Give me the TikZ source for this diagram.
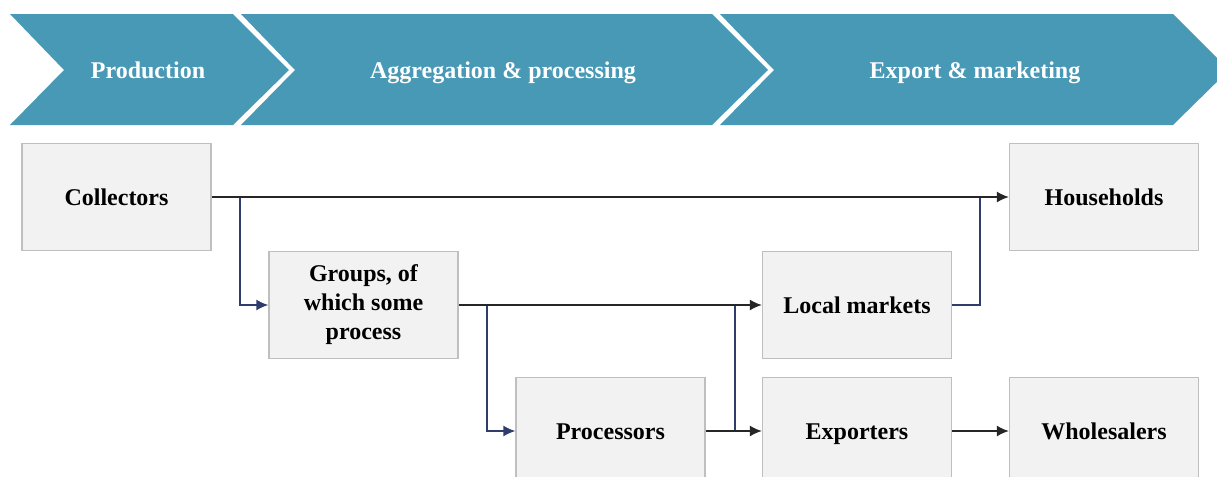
\documentclass[tikz,border=0pt]{standalone}
\usepackage{fontspec}
\setmainfont{Liberation Serif}
\usetikzlibrary{arrows.meta}
\usepackage{xcolor}
\definecolor{bannerblue}{HTML}{4899B6}
\definecolor{boxgrey}{HTML}{F2F2F2}
\definecolor{edgegrey}{HTML}{BFBFBF}
\definecolor{linknavy}{HTML}{2E3D6B}

\tikzset{
  box/.style={draw=edgegrey, line width=.6pt, fill=boxgrey, minimum width=94.5pt, minimum height=53.5pt,
    align=center, font=\fontsize{12}{14.5}\selectfont\bfseries, inner sep=2pt},
  actor/.style={box, text height=9.5pt, text depth=1.5pt},
  stage/.style={text=white, font=\fontsize{12}{14}\selectfont\bfseries, text height=9.5pt, text depth=1.5pt},
  flow/.style={draw=black!85, line width=.9pt},
  branch/.style={draw=linknavy, line width=.9pt},
  tip/.style={-{Latex[length=6pt,width=5.5pt]}},
}

\begin{document}
\begin{tikzpicture}[x=.5pt, y=-.5pt]
\useasboundingbox (0,0) rectangle (1217,477);
\clip (0,0) rectangle (1217,477);
% value chain banner
\foreach \l/\r in {10/233, 241/712, 720/1173}
  \fill[bannerblue] (\l,14) -- (\r,14) -- ({\r+56},70) -- (\r,125) -- (\l,125) -- ({\l+54},70) -- cycle;
\node[stage] (prod) at (148,70) {Production};
\node[stage] (aggr) at (503,70) {Aggregation \& processing};
\node[stage] (expm) at (975,70) {Export \& marketing};

% actors
\node[actor] (coll) at (116.5,197) {Collectors};
\node[actor] (hh)   at (1104,197) {Households};
\node[box]   (grp)  at (363.5,305) {\strut Groups, of\\which some\\process\strut};
\node[actor] (lm)   at (857,305) {Local markets};
\node[actor] (proc) at (610.5,431) {Processors};
\node[actor] (exp)  at (857,431) {Exporters};
\node[actor] (whs)  at (1104,431) {Wholesalers};

% junctions
\coordinate (j1) at (240,197);
\coordinate (j2) at (487,305);
\coordinate (j3) at (735,305);
\coordinate (j4) at (980,197);

% flows
\draw[branch, tip] (j1) |- (grp.west);
\draw[branch, tip] (j2) |- (proc.west);
\draw[branch] (j3) -- (j3 |- exp.west);
\draw[branch] (lm.east) -| (j4);
\draw[flow, tip] (coll.east) -- (hh.west);
\draw[flow, tip] (grp.east) -- (lm.west);
\draw[flow, tip] (proc.east) -- (exp.west);
\draw[flow, tip] (exp.east) -- (whs.west);
\end{tikzpicture}
\end{document}
